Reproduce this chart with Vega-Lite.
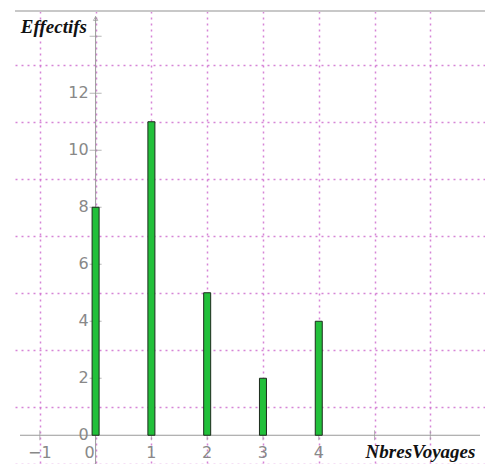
{
  "$schema": "https://vega.github.io/schema/vega-lite/v6.json",
  "autosize": "none",
  "width": 470,
  "height": 453,
  "padding": {"left": 15, "top": 11, "right": 0, "bottom": 0},
  "config": {"view": {"stroke": null}},
  "datasets": {
    "bars": [
      {"NbresVoyages": 0, "Effectifs": 8},
      {"NbresVoyages": 1, "Effectifs": 11},
      {"NbresVoyages": 2, "Effectifs": 5},
      {"NbresVoyages": 3, "Effectifs": 2},
      {"NbresVoyages": 4, "Effectifs": 4}
    ],
    "xlabels": [
      {"v": -1, "t": "−1"}, {"v": 0, "t": "0"}, {"v": 1, "t": "1"}, {"v": 2, "t": "2"}, {"v": 3, "t": "3"}, {"v": 4, "t": "4"}
    ],
    "xticks": [{"v": -1}, {"v": 1}, {"v": 2}, {"v": 3}, {"v": 4}, {"v": 5}, {"v": 6}],
    "ylabels": [{"v": 0}, {"v": 2}, {"v": 4}, {"v": 6}, {"v": 8}, {"v": 10}, {"v": 12}],
    "yticks": [{"v": 2}, {"v": 4}, {"v": 6}, {"v": 8}, {"v": 10}, {"v": 12}, {"v": 14}]
  },
  "layer": [
    {
      "data": {"values": [{}]},
      "mark": {"type": "point", "opacity": 0},
      "encoding": {
        "x": {"datum": 0, "type": "quantitative", "scale": {"domain": [-1.35526, 6.89035], "nice": false, "zero": false},
          "axis": {"title": null, "labels": false, "ticks": false, "domain": false, "grid": true,
            "values": [-1, -0.5, 0, 0.5, 1, 1.5, 2, 2.5, 3, 3.5, 4, 4.5, 5, 5.5, 6, 6.5],
            "gridColor": "#cc66cc", "gridDash": [2, 4], "gridWidth": 1.5, "gridOpacity": 0.8}},
        "y": {"datum": 0, "type": "quantitative", "scale": {"domain": [-1.0087, 14.886], "nice": false, "zero": false},
          "axis": {"title": null, "labels": false, "ticks": false, "domain": false, "grid": true,
            "values": [-1, 0, 1, 2, 3, 4, 5, 6, 7, 8, 9, 10, 11, 12, 13, 14],
            "gridColor": "#cc66cc", "gridDash": [2, 4], "gridWidth": 1.5, "gridOpacity": 0.8}}
      }
    },
    {
      "data": {"values": [{}]},
      "mark": {"type": "rule", "color": "#c8c8c8", "strokeWidth": 2},
      "encoding": {"y": {"datum": 14.886, "type": "quantitative"}}
    },
    {
      "data": {"values": [{}]},
      "mark": {"type": "rule", "color": "#999999", "strokeWidth": 1},
      "encoding": {"x": {"datum": 0, "type": "quantitative"}, "y": {"datum": -1.0087, "type": "quantitative"}, "y2": {"datum": 14.7}}
    },
    {
      "data": {"values": [{}]},
      "mark": {"type": "rule", "color": "#999999", "strokeWidth": 1},
      "encoding": {"y": {"datum": 0, "type": "quantitative"}, "x": {"datum": -1.35526, "type": "quantitative"}, "x2": {"datum": 6.89035}}
    },
    {
      "data": {"values": [{}]},
      "mark": {"type": "point", "shape": "triangle-up", "size": 20, "filled": false, "color": "#999999", "strokeWidth": 1},
      "encoding": {"x": {"datum": 0, "type": "quantitative"}, "y": {"datum": 14.62, "type": "quantitative"}}
    },
    {
      "data": {"name": "yticks"},
      "mark": {"type": "tick", "orient": "horizontal", "size": 12, "thickness": 1, "color": "#999999"},
      "encoding": {"x": {"datum": 0, "type": "quantitative"}, "y": {"field": "v", "type": "quantitative"}}
    },
    {
      "data": {"name": "xticks"},
      "mark": {"type": "tick", "orient": "vertical", "size": 10, "thickness": 1, "color": "#999999"},
      "encoding": {"y": {"datum": 0, "type": "quantitative"}, "x": {"field": "v", "type": "quantitative"}}
    },
    {
      "data": {"name": "bars"},
      "mark": {"type": "bar", "size": 7, "color": "#22c03a", "stroke": "#1c2a1c", "strokeWidth": 1},
      "encoding": {
        "x": {"field": "NbresVoyages", "type": "quantitative"},
        "y": {"field": "Effectifs", "type": "quantitative"}
      }
    },
    {
      "data": {"name": "ylabels"},
      "mark": {"type": "text", "align": "right", "baseline": "middle", "dx": -7, "font": "DejaVu Sans", "fontSize": 16, "color": "#888888"},
      "encoding": {"x": {"datum": 0, "type": "quantitative"}, "y": {"field": "v", "type": "quantitative"}, "text": {"field": "v", "type": "quantitative"}}
    },
    {
      "data": {"name": "xlabels"},
      "transform": [{"filter": "datum.v != 0"}],
      "mark": {"type": "text", "align": "center", "baseline": "middle", "dy": 18, "font": "DejaVu Sans", "fontSize": 16, "color": "#888888"},
      "encoding": {"x": {"field": "v", "type": "quantitative"}, "y": {"datum": 0, "type": "quantitative"}, "text": {"field": "t"}}
    },
    {
      "data": {"name": "xlabels"},
      "transform": [{"filter": "datum.v == 0"}],
      "mark": {"type": "text", "align": "center", "baseline": "middle", "dy": 18, "dx": -6, "font": "DejaVu Sans", "fontSize": 16, "color": "#888888"},
      "encoding": {"x": {"field": "v", "type": "quantitative"}, "y": {"datum": 0, "type": "quantitative"}, "text": {"field": "t"}}
    },
    {
      "data": {"values": [{"t": "Effectifs"}]},
      "mark": {"type": "text", "align": "left", "baseline": "middle", "font": "Liberation Serif", "fontStyle": "italic", "fontWeight": "bold", "fontSize": 19, "color": "#111111"},
      "encoding": {"x": {"datum": -1.34, "type": "quantitative"}, "y": {"datum": 14.32, "type": "quantitative"}, "text": {"field": "t"}}
    },
    {
      "data": {"values": [{"t": "NbresVoyages"}]},
      "mark": {"type": "text", "align": "left", "baseline": "middle", "font": "Liberation Serif", "fontStyle": "italic", "fontWeight": "bold", "fontSize": 19, "color": "#111111"},
      "encoding": {"x": {"datum": 4.84, "type": "quantitative"}, "y": {"datum": -0.6, "type": "quantitative"}, "text": {"field": "t"}}
    }
  ]
}
